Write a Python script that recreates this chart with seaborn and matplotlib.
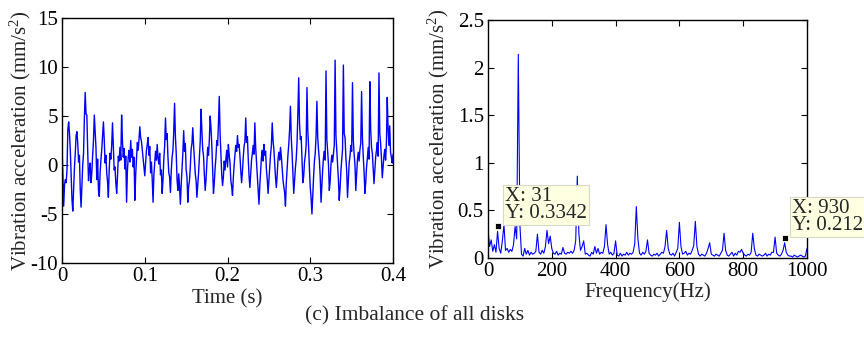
import numpy as np
import pandas as pd
import matplotlib
matplotlib.use("Agg")
import matplotlib.pyplot as plt
import seaborn as sns

time_s = np.arange(401) / 1000.0
accel = [
    1.8, -1.0, -4.2, -2.0, -1.5, -1.8, -0.5, 3.6, 4.4, 3.2,
    1.5, -1.0, -3.5, -4.7, -2.5, -0.3, 1.2, 3.0, 3.4, 2.2,
    0.3, 1.0, -2.5, -4.3, -2.0, 0.0, 1.2, 4.8, 7.4, 5.2,
    5.1, 1.5, -1.6, -0.5, 0.2, -1.8, -0.8, 1.0, 2.5, 5.1,
    3.5, 1.8, -1.5, 0.6, -2.5, -3.2, -0.8, 0.5, 1.6, 3.0,
    4.4, 2.6, 0.2, 1.0, -0.8, -1.7, -3.3, -0.5, 1.2, 0.6,
    2.0, 4.3, 1.9, -0.5, -0.2, -1.8, -2.9, -1.2, 0.9, 0.4,
    1.8, 0.5, 5.1, 2.4, 0.8, 1.7, -0.4, 0.9, -3.8, -0.6,
    0.8, 1.5, 0.3, 2.5, 0.8, 1.6, -0.2, 0.8, -3.6, -1.0,
    0.6, 2.3, 1.5, 2.6, 3.9, 2.8, 2.4, 1.5, 0.6, -0.2,
    -1.1, 0.2, 1.5, 2.1, 2.8, 1.0, 1.9, -0.8, 0.3, -1.5,
    -3.8, -1.0, 0.2, 1.4, 0.5, 2.1, 0.7, 0.1, 1.2, -1.0,
    -0.5, -2.9, -1.5, 0.6, 1.9, 4.8, 2.6, 3.2, 0.8, -0.8,
    -1.2, -2.8, -0.6, 0.8, 1.5, 3.4, 6.3, 2.9, 1.2, -1.5,
    -2.6, -0.9, -2.2, -4.0, -2.0, -0.4, 1.2, 3.5, 1.4, 2.2,
    -0.5, -1.2, -3.8, -2.2, -1.6, -0.2, 1.6, 2.2, 3.8, 2.0,
    0.6, -0.9, -1.6, -3.3, -2.0, -0.8, 0.8, 2.4, 5.7, 3.5,
    1.6, 0.9, -1.0, -2.6, -1.5, 0.2, 1.8, 1.0, 2.6, 5.0,
    3.8, 2.0, -0.5, -2.9, -1.8, -0.3, 0.8, 2.5, 2.0, 4.2,
    7.0, 3.2, 1.1, -1.0, -2.1, -1.2, 0.4, -0.5, 0.6, 1.5,
    -0.2, 2.1, 1.0, 0.2, -1.6, -2.2, -3.1, -1.3, 0.0, 1.1,
    2.0, 1.4, 3.0, 1.8, 2.1, 0.9, -0.6, -1.8, -0.7, 0.8,
    1.9, 2.4, 4.8, 2.3, 2.9, 0.7, -1.1, -2.3, -0.9, 0.5,
    1.2, 2.0, 1.1, 4.3, 1.8, 0.3, -1.4, -2.5, -4.0, -2.1,
    -0.6, 0.8, 1.5, 0.4, 2.1, 1.0, 1.4, -0.5, -1.5, -2.9,
    -1.6, -0.2, 1.1, 2.0, 4.3, 2.5, 1.6, 0.2, -1.3, -2.3,
    -1.0, 0.6, 1.3, 0.5, 1.8, 0.9, -0.3, -1.5, -2.2, -2.8,
    -4.2, -1.8, -0.4, 1.0, 2.1, 3.6, 6.0, 2.8, 1.2, -0.8,
    -2.9, -1.6, -0.3, 0.6, 2.3, 5.3, 8.9, 4.2, 2.6, 2.9,
    0.4, -1.8, -1.2, 0.3, 1.0, 2.0, 7.9, 3.5, 1.8, -0.4,
    -2.3, -3.4, -5.0, -3.0, -1.2, 0.4, 1.2, 3.0, 6.5, 2.8,
    1.5, 0.5, -1.2, -3.8, -2.0, -0.4, 0.8, 1.4, 0.5, 9.6,
    2.6, 1.4, 0.0, -2.6, -1.7, 0.1, 1.0, 0.3, 1.2, 2.0,
    10.7, 3.0, 1.5, 0.2, -1.5, -3.6, -2.4, -0.6, 0.5, 1.6,
    10.2, 3.2, 2.8, 0.8, -0.6, -3.3, -1.5, 0.2, 0.9, 2.0,
    1.4, 8.4, 2.5, 1.1, 0.0, -2.6, -1.0, 0.6, 1.3, 0.4,
    1.6, 2.2, 7.5, 2.8, 0.9, -0.7, -2.9, -1.8, -0.2, 0.7,
    1.8, 0.6, 8.5, 3.6, 1.8, 1.2, -0.4, -1.9, -0.6, 0.8,
    1.5, 2.3, 0.9, 9.4, 3.2, 2.2, 0.7, -1.3, -0.2, 0.9,
    1.6, 0.5, 2.2, 6.9, 3.8, 2.0, 4.0, 1.3, 0.8, 0.2,
    1.1,
]

# Spectrum, every 5 Hz from 0 to 1000 Hz
freq_hz = np.arange(0, 1001, 5)
amp = [
    0.30, 0.12, 0.19, 0.07, 0.14, 0.06, 0.28, 0.10, 0.05, 0.18,
    0.35, 0.08, 0.10, 0.06, 0.09, 0.07, 0.14, 0.33, 0.20, 2.14,
    0.35, 0.04, 0.02, 0.10, 0.04, 0.08, 0.03, 0.06, 0.04, 0.05,
    0.07, 0.25, 0.06, 0.04, 0.08, 0.05, 0.12, 0.29, 0.15, 0.23,
    0.10, 0.05, 0.04, 0.07, 0.03, 0.05, 0.04, 0.11, 0.05, 0.04,
    0.06, 0.05, 0.07, 0.05, 0.08, 0.18, 0.86, 0.25, 0.08, 0.12,
    0.18, 0.04, 0.05, 0.03, 0.02, 0.06, 0.04, 0.12, 0.05, 0.10,
    0.04, 0.06, 0.05, 0.12, 0.35, 0.14, 0.04, 0.06, 0.03, 0.05,
    0.18, 0.03, 0.02, 0.05, 0.02, 0.04, 0.03, 0.06, 0.03, 0.05,
    0.04, 0.06, 0.15, 0.54, 0.20, 0.05, 0.03, 0.06, 0.04, 0.07,
    0.19, 0.05, 0.03, 0.02, 0.04, 0.03, 0.05, 0.02, 0.04, 0.06,
    0.05, 0.12, 0.29, 0.10, 0.04, 0.03, 0.05, 0.02, 0.06, 0.10,
    0.375, 0.12, 0.04, 0.05, 0.07, 0.03, 0.05, 0.04, 0.08, 0.13,
    0.385, 0.12, 0.04, 0.02, 0.04, 0.03, 0.02, 0.05, 0.10, 0.16,
    0.04, 0.03, 0.02, 0.04, 0.03, 0.02, 0.05, 0.08, 0.26, 0.08,
    0.03, 0.02, 0.04, 0.06, 0.02, 0.05, 0.03, 0.07, 0.06, 0.09,
    0.05, 0.03, 0.02, 0.04, 0.03, 0.06, 0.26, 0.10, 0.03, 0.02,
    0.04, 0.03, 0.02, 0.03, 0.05, 0.02, 0.04, 0.03, 0.06, 0.06,
    0.22, 0.05, 0.03, 0.02, 0.04, 0.08, 0.16, 0.06, 0.03, 0.02,
    0.02, 0.01, 0.03, 0.02, 0.01, 0.02, 0.03, 0.02, 0.01, 0.02,
    0.10,
]

# Data tips shown on the spectrum
tip_x = [31, 930]
tip_y = [0.3342, 0.212]
tip_text = ["X: 31\nY: 0.3342", "X: 930\nY: 0.212"]

sns.set_style("ticks")
plt.rcParams["font.family"] = ["Liberation Serif", "DejaVu Serif"]
plt.rcParams["mathtext.fontset"] = "custom"
plt.rcParams["mathtext.rm"] = "Liberation Serif"
plt.rcParams["mathtext.it"] = "Liberation Serif:italic"
plt.rcParams["axes.unicode_minus"] = False
plt.rcParams["xtick.direction"] = "in"
plt.rcParams["ytick.direction"] = "in"

fig = plt.figure(figsize=(8.64, 3.51), dpi=100)
ax1 = fig.add_axes([0.0718, 0.2507, 0.3831, 0.698])
ax2 = fig.add_axes([0.5648, 0.265, 0.3692, 0.678])

fs = 15
ylab = r"Vibration acceleration (mm/s$^2$)"

# Time domain
sns.lineplot(x=time_s, y=accel, ax=ax1, color="#0000ff", linewidth=1.0, estimator=None)
ax1.set_xlim(0, 0.4)
ax1.set_ylim(-10, 15)
ax1.set_xticks([0, 0.1, 0.2, 0.3, 0.4])
ax1.set_xticklabels(["0", "0.1", "0.2", "0.3", "0.4"])
ax1.set_yticks([-10, -5, 0, 5, 10, 15])
ax1.set_xlabel("Time (s)", fontsize=fs, labelpad=2)
ax1.set_ylabel(ylab, fontsize=fs, labelpad=-2)

# Frequency domain
sns.lineplot(x=freq_hz, y=amp, ax=ax2, color="#0000ff", linewidth=0.8, estimator=None)
ax2.set_xlim(0, 1000)
ax2.set_ylim(0, 2.5)
ax2.set_xticks([0, 200, 400, 600, 800, 1000])
ax2.set_yticks([0, 0.5, 1, 1.5, 2, 2.5])
ax2.set_yticklabels(["0", "0.5", "1", "1.5", "2", "2.5"])
ax2.set_xlabel("Frequency(Hz)", fontsize=fs, labelpad=1)
ax2.set_ylabel(ylab, fontsize=fs, labelpad=5)

ax2.plot(tip_x, tip_y, "s", color="black", markersize=5,
         markeredgecolor="#ffffe0", markeredgewidth=0.6, clip_on=False, zorder=5)
for x, y, s in zip(tip_x, tip_y, tip_text):
    ax2.annotate(s, xy=(x, y), xytext=(5, 2), textcoords="offset points",
                 ha="left", va="bottom", fontsize=fs, linespacing=0.85,
                 bbox=dict(boxstyle="square,pad=0.1", fc="#ffffe1", ec="#d8d8c8", lw=0.8),
                 annotation_clip=False, zorder=6)

for ax in (ax1, ax2):
    ax.tick_params(axis="both", which="both", labelsize=fs, length=4, width=0.8,
                   top=True, right=True, pad=3, colors="black")
    for sp in ax.spines.values():
        sp.set_visible(True)
        sp.set_color("black")
        sp.set_linewidth(1.0)

fig.text(0.48, 0.1, "(c) Imbalance of all disks", ha="center", va="center", fontsize=15.5)

fig.savefig("out.png", dpi=100)
